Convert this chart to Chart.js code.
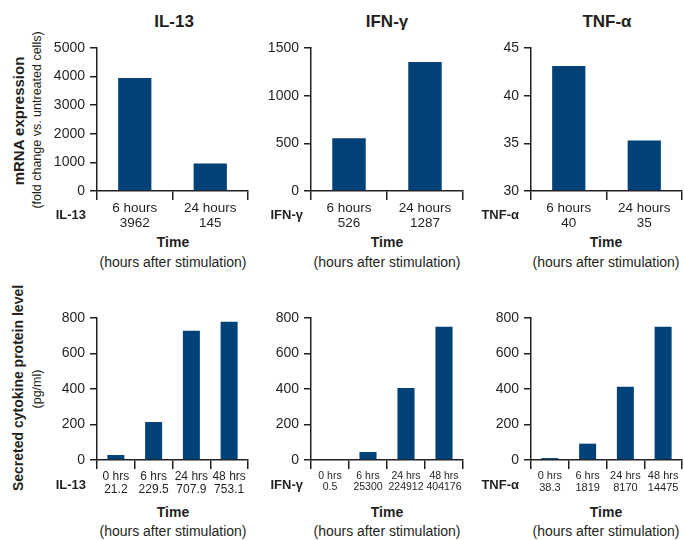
<!DOCTYPE html>
<html>
<head>
<meta charset="utf-8">
<script src="https://cdn.jsdelivr.net/npm/chart.js@4/dist/chart.umd.min.js"></script>
<style>
  body { margin: 0; background: #fff; width: 684px; height: 540px; position: relative; overflow: hidden;
         font-family: "Liberation Sans", Arial, sans-serif; color: #231f20; }
  canvas { position: absolute; }
  .c { position: absolute; white-space: nowrap; transform: translate(-50%, -50%); }
  .r { position: absolute; white-space: nowrap; transform: translate(-100%, -50%); font-weight: bold; font-size: 13px; }
  .v { position: absolute; white-space: nowrap; transform: translate(-50%, -50%) rotate(-90deg); }
  .ttl { font-weight: bold; font-size: 17px; }
  .time { font-weight: bold; font-size: 14px; }
  .sub { font-size: 14px; }
</style>
</head>
<body>
<div class="c ttl" style="left:174px;top:22px">IL-13</div>
<div class="c ttl" style="left:387px;top:22px">IFN-γ</div>
<div class="c ttl" style="left:607px;top:22px">TNF-α</div>

<div class="v" style="left:18px;top:121px;font-weight:bold;font-size:15px">mRNA expression</div>
<div class="v" style="left:37px;top:120px;font-size:12.5px">(fold change vs. untreated cells)</div>
<div class="v" style="left:18px;top:388px;font-weight:bold;font-size:14px">Secreted cytokine protein level</div>
<div class="v" style="left:37px;top:389px;font-size:12.5px">(pg/ml)</div>

<canvas id="c1" width="212" height="202" style="left:40px;top:30px"></canvas>
<canvas id="c2" width="213" height="202" style="left:254px;top:30px"></canvas>
<canvas id="c3" width="210" height="202" style="left:474px;top:30px"></canvas>
<canvas id="c4" width="212" height="200" style="left:40px;top:300px"></canvas>
<canvas id="c5" width="213" height="200" style="left:254px;top:300px"></canvas>
<canvas id="c6" width="210" height="200" style="left:474px;top:300px"></canvas>

<div class="r" style="left:86px;top:214px">IL-13</div>
<div class="r" style="left:303px;top:214px">IFN-γ</div>
<div class="r" style="left:519px;top:214px">TNF-α</div>
<div class="r" style="left:86px;top:484px">IL-13</div>
<div class="r" style="left:303px;top:484px">IFN-γ</div>
<div class="r" style="left:519px;top:484px">TNF-α</div>

<div class="c time" style="left:173px;top:242px">Time</div>
<div class="c sub" style="left:173px;top:262px">(hours after stimulation)</div>
<div class="c time" style="left:387px;top:242px">Time</div>
<div class="c sub" style="left:387px;top:262px">(hours after stimulation)</div>
<div class="c time" style="left:606px;top:242px">Time</div>
<div class="c sub" style="left:606px;top:262px">(hours after stimulation)</div>
<div class="c time" style="left:173px;top:512px">Time</div>
<div class="c sub" style="left:173px;top:531px">(hours after stimulation)</div>
<div class="c time" style="left:387px;top:512px">Time</div>
<div class="c sub" style="left:387px;top:531px">(hours after stimulation)</div>
<div class="c time" style="left:606px;top:512px">Time</div>
<div class="c sub" style="left:606px;top:531px">(hours after stimulation)</div>

<script>
// mRNA expression (fold change), 6 h and 24 h
const mrnaTimes = ['6 hours', '24 hours'];
const il13Mrna = [3950, 965];
const il13MrnaLabels = ['3962', '145'];
const ifngMrna = [553, 1353];
const ifngMrnaLabels = ['526', '1287'];
const tnfaMrna = [43.1, 35.3];
const tnfaMrnaLabels = ['40', '35'];

// secreted protein (pg/ml)
const proteinTimes = ['0 hrs', '6 hrs', '24 hrs', '48 hrs'];
const il13Protein = [28, 214, 728, 779];
const il13ProteinLabels = ['21.2', '229.5', '707.9', '753.1'];
const ifngProtein = [5, 45, 406, 751];
const ifngProteinLabels = ['0.5', '25300', '224912', '404176'];
const tnfaProtein = [11, 92, 412, 751];
const tnfaProteinLabels = ['38.3', '1819', '8170', '14475'];

const ink = '#231f20';
const barColor = '#004178';
const family = '"Liberation Sans", Arial, sans-serif';

function drawPanel(id, times, values, valueLabels, yMin, yMax, yStep, o) {
    const labels = times.map((t, i) => [t, valueLabels[i]]);
    return new Chart(document.getElementById(id), {
        type: 'bar',
        data: {
            labels: labels,
            datasets: [{
                data: values,
                base: yMin,
                backgroundColor: barColor,
                barPercentage: o.barPct,
                categoryPercentage: 1
            }]
        },
        options: {
            responsive: false,
            animation: false,
            layout: { padding: { top: 18, right: o.padRight, left: 0, bottom: 0 } },
            plugins: { legend: { display: false }, tooltip: { enabled: false } },
            scales: {
                x: {
                    grid: { drawOnChartArea: false, tickLength: 9, color: ink, lineWidth: 1.5 },
                    border: { color: ink, width: 1.5 },
                    ticks: { color: ink, font: { size: o.xFont, family: family, lineHeight: 1.1 },
                             padding: 1, maxRotation: 0, autoSkip: false },
                    afterFit: s => { s.height = o.xH; }
                },
                y: {
                    min: yMin,
                    max: yMax,
                    grid: { drawOnChartArea: false, tickLength: 7, color: ink, lineWidth: 1.5 },
                    border: { color: ink, width: 1.5 },
                    ticks: { stepSize: yStep, color: ink, font: { size: 14, family: family }, padding: 5,
                             callback: v => String(v) },
                    afterFit: s => { s.width = 57; }
                }
            }
        }
    });
}

const topRow = { barPct: 0.44, xFont: 13.5, xH: 41 };
const bottomRow = { barPct: 0.45, xH: 40 };

drawPanel('c1', mrnaTimes, il13Mrna, il13MrnaLabels, 0, 5000, 1000, { ...topRow, padRight: 4 });
drawPanel('c2', mrnaTimes, ifngMrna, ifngMrnaLabels, 0, 1500, 500, { ...topRow, padRight: 4 });
drawPanel('c3', mrnaTimes, tnfaMrna, tnfaMrnaLabels, 30, 45, 5, { ...topRow, padRight: 2 });
drawPanel('c4', proteinTimes, il13Protein, il13ProteinLabels, 0, 800, 200, { ...bottomRow, xFont: 12, padRight: 4 });
drawPanel('c5', proteinTimes, ifngProtein, ifngProteinLabels, 0, 800, 200, { ...bottomRow, xFont: 10.5, padRight: 4 });
drawPanel('c6', proteinTimes, tnfaProtein, tnfaProteinLabels, 0, 800, 200, { ...bottomRow, xFont: 11, padRight: 2 });
</script>
</body>
</html>
